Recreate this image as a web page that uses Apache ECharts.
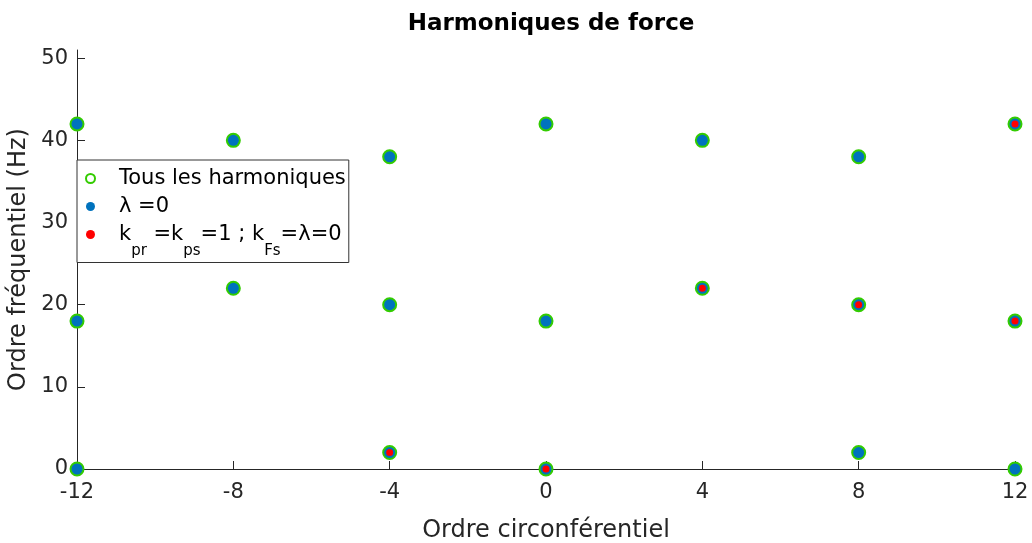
<!DOCTYPE html>
<html>
<head>
<meta charset="utf-8">
<script src="https://cdn.jsdelivr.net/npm/echarts@6/dist/echarts.min.js"></script>
<style>
  html, body { margin: 0; padding: 0; background: #fff; }
  #chart { width: 1032px; height: 543px; }
</style>
</head>
<body>
<div id="chart"></div>
<script>
// Circumferential order ticks and frequency order ticks
const xTicks = [-12, -8, -4, 0, 4, 8, 12];
const yTicks = [0, 10, 20, 30, 40, 50];

// All force harmonics: [circumferential order, frequency order (Hz)]
const allHarmonics = [
  [-12, 0], [-12, 18], [-12, 42],
  [-8, 22], [-8, 40],
  [-4, 2], [-4, 20], [-4, 38],
  [0, 0], [0, 18], [0, 42],
  [4, 22], [4, 40],
  [8, 2], [8, 20], [8, 38],
  [12, 0], [12, 18], [12, 42]
];

// Harmonics with lambda = 0
const lambdaZero = [
  [-12, 0], [-12, 18], [-12, 42],
  [-8, 22], [-8, 40],
  [-4, 2], [-4, 20], [-4, 38],
  [0, 0], [0, 18], [0, 42],
  [4, 22], [4, 40],
  [8, 2], [8, 20], [8, 38],
  [12, 0], [12, 18], [12, 42]
];

// Harmonics with k_pr = k_ps = 1 and k_Fs = lambda = 0
const kSubset = [
  [-4, 2], [0, 0], [4, 22], [8, 20], [12, 18], [12, 42]
];

const seriesNames = ['Tous les harmoniques', 'lambda0', 'kSubset'];

const axisColor = '#262626';
const font = 'DejaVu Sans, Liberation Sans, Arial, sans-serif';

const chart = echarts.init(document.getElementById('chart'), null, { renderer: 'canvas' });

chart.setOption({
  backgroundColor: '#ffffff',
  animation: false,
  title: {
    text: 'Harmoniques de force',
    left: 546,
    textAlign: 'center',
    top: 8,
    textStyle: { fontFamily: font, fontWeight: 'bold', fontSize: 23, color: '#000' }
  },
  grid: { left: 77, right: 17, top: 50, bottom: 74, outerBoundsMode: 'none', containLabel: false },
  legend: {
    orient: 'vertical',
    left: 77,
    top: 160,
    padding: [8, 3, 4, 8],
    itemGap: 7,
    itemWidth: 9,
    itemHeight: 9,
    backgroundColor: '#fff',
    borderColor: '#333',
    borderWidth: 1,
    borderRadius: 0,
    data: seriesNames,
    formatter: function (name) {
      if (name === 'lambda0') return '{n|λ =0}';
      if (name === 'kSubset') return '{n|k}{s|pr}{n| =k}{s|ps}{n|=1 ; k}{s|Fs}{n|=λ=0}';
      return '{n|' + name + '}';
    },
    textStyle: {
      fontFamily: font,
      fontSize: 21,
      color: '#000',
      padding: [0, 0, 0, 19],
      rich: {
        n: { fontFamily: font, fontSize: 21, color: '#000', lineHeight: 24, verticalAlign: 'middle' },
        s: { fontFamily: font, fontSize: 15, color: '#000', lineHeight: 24, verticalAlign: 'bottom', padding: [0, 0, -12, 0] }
      }
    }
  },
  xAxis: {
    type: 'value',
    min: -12,
    max: 12,
    interval: 4,
    name: 'Ordre circonférentiel',
    nameLocation: 'middle',
    nameGap: 50,
    nameTextStyle: { fontFamily: font, fontSize: 24, color: axisColor },
    axisLine: { show: true, onZero: false, lineStyle: { color: axisColor, width: 1 } },
    axisTick: { show: true, inside: true, length: 8, lineStyle: { color: axisColor } },
    axisLabel: {
      fontFamily: font, fontSize: 21, color: axisColor, margin: 13,
      customValues: xTicks
    },
    splitLine: { show: false }
  },
  yAxis: {
    type: 'value',
    min: 0,
    max: 51,
    name: 'Ordre fréquentiel (Hz)',
    nameLocation: 'middle',
    nameGap: 37,
    nameTextStyle: { fontFamily: font, fontSize: 24, color: axisColor },
    axisLine: { show: true, onZero: false, lineStyle: { color: axisColor, width: 1 } },
    axisTick: { show: true, inside: true, length: 8, lineStyle: { color: axisColor }, customValues: yTicks },
    axisLabel: {
      fontFamily: font, fontSize: 21, color: axisColor, margin: 9,
      customValues: yTicks
    },
    splitLine: { show: false }
  },
  series: [
    {
      name: seriesNames[0],
      type: 'scatter',
      data: allHarmonics,
      symbol: 'circle',
      symbolSize: 12,
      itemStyle: { color: '#ffffff', borderColor: '#33cc00', borderWidth: 3, opacity: 1 },
      z: 2
    },
    {
      name: seriesNames[1],
      type: 'scatter',
      data: lambdaZero,
      symbol: 'circle',
      symbolSize: 11,
      itemStyle: { color: '#0072bd', opacity: 1 },
      z: 3
    },
    {
      name: seriesNames[2],
      type: 'scatter',
      data: kSubset,
      symbol: 'circle',
      symbolSize: 7,
      itemStyle: { color: '#ff0000', opacity: 1 },
      z: 4
    }
  ]
});
</script>
</body>
</html>
